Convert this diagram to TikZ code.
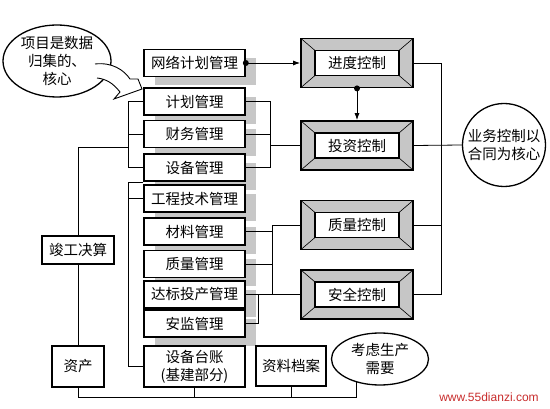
\documentclass[tikz,border=0pt]{standalone}
\usepackage{fontspec}
\setmainfont{Noto Sans CJK SC}
\newfontfamily\urlfont{Liberation Sans}
\usetikzlibrary{shapes.geometric, shadows, arrows.meta}
\definecolor{wmred}{RGB}{200,45,45}

\begin{document}
\begin{tikzpicture}[x=1pt, y=-1pt,
    font=\fontsize{14.5}{18}\selectfont,
    conn/.style={line width=0.8pt},
    mgmt/.style={draw, line width=1.6pt, fill=white, minimum width=101pt, minimum height=27pt, inner sep=0pt,
        drop shadow={shadow xshift=11pt, shadow yshift=-9pt, fill=black!22, opacity=1}},
    simplebox/.style={draw, line width=1.6pt, fill=white, inner sep=0pt, align=center},
    bubble/.style={ellipse, draw, line width=1.3pt, fill=white, inner sep=0pt, align=center},
    ctrl/.style={draw, line width=1.8pt, fill=gray!45, minimum width=112pt, minimum height=49pt, inner sep=0pt,
        path picture={
            \draw[line width=0.6pt] (path picture bounding box.north west) -- ++(14pt,-12pt)
                (path picture bounding box.north east) -- ++(-14pt,-12pt)
                (path picture bounding box.south west) -- ++(14pt,12pt)
                (path picture bounding box.south east) -- ++(-14pt,12pt);
            \draw[line width=1.3pt, fill=white] ([shift={(14pt,-12pt)}]path picture bounding box.north west)
                rectangle ([shift={(-14pt,12pt)}]path picture bounding box.south east);
        }},
    tip/.style={-{Latex[length=7pt, width=5pt]}},
]
    \useasboundingbox (0,0) rectangle (550,409);

    % Management column
    \node[mgmt] (wlgl) at (194.5,63) {网络计划管理};
    \node[mgmt] (jhgl) at (194.5,101.5) {计划管理};
    \node[mgmt] (cwgl) at (194.5,134) {财务管理};
    \node[mgmt] (sbgl) at (194.5,167.5) {设备管理};
    \node[mgmt] (gcgl) at (194.5,198.5) {工程技术管理};
    \node[mgmt] (clgl) at (194.5,231.5) {材料管理};
    \node[mgmt] (zlgl) at (194.5,264) {质量管理};
    \node[mgmt] (dbgl) at (194.5,294.5) {达标投产管理};
    \node[mgmt] (ajgl) at (194.5,323.5) {安监管理};
    \node[simplebox, minimum width=101pt, minimum height=41pt] (sbtz) at (194.5,366.5) {设备台账\\(基建部分)};

    % Bottom row and left side
    \node[simplebox, minimum width=52pt, minimum height=41pt] (zc) at (78,366.5) {资产};
    \node[simplebox, minimum width=70pt, minimum height=40pt] (zlda) at (291,366) {资料档案};
    \node[simplebox, minimum width=72pt, minimum height=28pt] (jgjs) at (78,250) {竣工决算};
    \node[bubble, minimum width=97pt, minimum height=52pt] (klsc) at (380,359) {考虑生产\\需要};
    \node[bubble, minimum width=108pt, minimum height=72pt] (hx) at (57,61) {项目是数据\\归集的、\\核心};

    % Control column
    \node[ctrl] (jdkz) at (357,63) {进度控制};
    \node[ctrl] (tzkz) at (357,145.5) {投资控制};
    \node[ctrl] (zlkz) at (357,225) {质量控制};
    \node[ctrl] (aqkz) at (357,294.5) {安全控制};
    \node[circle, draw, line width=1.3pt, minimum size=83pt, inner sep=0pt, align=center] (htkz) at (504,145) {业务控制以\\合同为核心};

    % Callout arrow
    \fill[white] (95,64) .. controls (112,62) and (124,70) .. (130,79) -- (138,79) -- (142,89)
        -- (114,99) -- (120,92) .. controls (113,83) and (106,79) .. (97,78) -- cycle;
    \draw[line width=0.9pt] (95,64) .. controls (112,62) and (124,70) .. (130,79) -- (138,79) -- (142,89)
        -- (114,99) -- (120,92) .. controls (113,83) and (106,79) .. (97,78);

    % Plan -> schedule -> investment
    \fill (wlgl.east) circle (3pt);
    \draw[conn, tip] (wlgl.east) -- (jdkz.west);
    \fill (jdkz.south) circle (3pt);
    \draw[conn, tip] (jdkz.south) -- (tzkz.north);

    % First group
    \coordinate (rg1) at (270,145.5);
    \draw[conn] (jhgl.east) -| (rg1);
    \draw[conn] (sbgl.east) -| (rg1);
    \draw[conn] (cwgl.east) -- (cwgl.east -| rg1);
    \draw[conn] (rg1) -- (tzkz.west);
    \coordinate (lg1) at (128,147);
    \draw[conn] (jhgl.west) -| (lg1);
    \draw[conn] (sbgl.west) -| (lg1);
    \draw[conn] (cwgl.west) -- (cwgl.west -| lg1);
    \draw[conn] (lg1) -| (jgjs.north);
    \draw[conn] (jgjs.south) -- (zc.north);

    % Second group
    \coordinate (lg2) at (128,182);
    \draw[conn] (lg2 -| gcgl.west) -- (lg2) |- (sbtz.west);
    \draw[conn] (gcgl.west) -- (gcgl.west -| lg2);
    \coordinate (rg2) at (272,0);
    \draw[conn] (zlkz.west) -| (rg2 |- dbgl.east);
    \draw[conn] (clgl.east) -- (clgl.east -| rg2);
    \draw[conn] (zlgl.east) -- (zlgl.east -| rg2);
    \draw[conn] (dbgl.east) -- (aqkz.west);
    \coordinate (rg3) at (258,0);
    \draw[conn] (ajgl.east) -| (rg3 |- dbgl.east);

    % Right bus
    \coordinate (rb) at (441,0);
    \draw[conn] (jdkz.east) -| (rb |- aqkz.east) -- (aqkz.east);
    \draw[conn] (zlkz.east) -- (zlkz.east -| rb);
    \draw[conn] (tzkz.east) -- (htkz.west);

    % Bottom bus
    \coordinate (bus) at (0,397);
    \draw[conn] (zc.south) |- (klsc.224 |- bus) -- (klsc.224);
    \draw[conn] (sbtz.south) -- (sbtz.south |- bus);
    \draw[conn] (zlda.south) -- (zlda.south |- bus);

    \node[text=wmred, font=\urlfont\fontsize{12}{14}\selectfont] (wm) at (489,397) {www.55dianzi.com};
\end{tikzpicture}
\end{document}
